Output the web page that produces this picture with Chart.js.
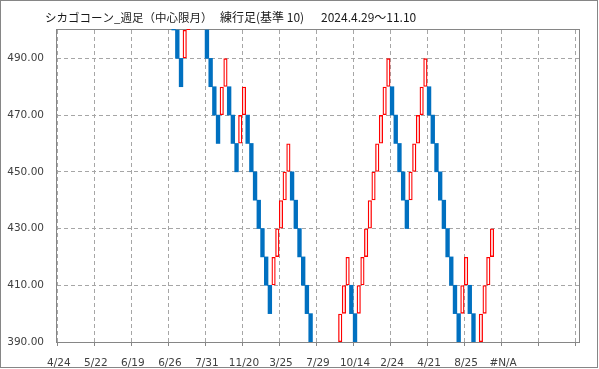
<!DOCTYPE html>
<html>
<head>
<meta charset="utf-8">
<script src="https://cdn.jsdelivr.net/npm/chart.js@4.4.1/dist/chart.umd.min.js"></script>
<style>
    html, body { margin: 0; padding: 0; background: #fff; }
    #wrap { width: 599px; height: 369px; }
</style>
</head>
<body>
<div id="wrap"><canvas id="myChart" width="599" height="369"></canvas></div>
<script>
// 練行足 (基準 10) : one brick per category
const brickSize = 10;
const categoryCount = 141;
const firstBrick = 31; // categories before this are above 500 (off the chart)

// bottom of each brick from category 31 on, null = off the chart
const brickLow = [
    500, 490, 480, 490, 500, null, null, null, null, 490,
    480, 470, 460, 470, 480, 470, 460, 450, 460, 470,
    460, 450, 440, 430, 420, 410, 400, 410, 420, 430,
    440, 450, 440, 430, 420, 410, 400, 390, null, null,
    null, null, null, null, null, 390, 400, 410, 400, 390,
    400, 410, 420, 430, 440, 450, 460, 470, 480, 470,
    460, 450, 440, 430, 440, 450, 460, 470, 480, 470,
    460, 450, 440, 430, 420, 410, 400, 390, 400, 410,
    400, 390, null, 390, 400, 410, 420
];
// U = up brick (red outline), D = down brick (blue), - = none
const brickDir = (
    'DDDUU----D' +
    'DDDUUDDDUU' +
    'DDDDDDDUUU' +
    'UUDDDDDD--' +
    '-----UUUDD' +
    'UUUUUUUUUD' +
    'DDDDUUUUUD' +
    'DDDDDDDDUU' +
    'DD-UUUU'
).split('');

const tickLabels = ['4/24', '5/22', '6/19', '6/26', '7/31', '11/20', '3/25',
    '7/29', '10/14', '2/24', '4/21', '8/25', '#N/A'];
const yTicks = [390, 410, 430, 450, 470, 490];

const labels = [];
for (let i = 0; i < categoryCount; i++) {
    labels.push(i % 10 === 0 && tickLabels[i / 10] ? tickLabels[i / 10] : '');
}

function bricks(dir) {
    return labels.map((_, i) => {
        const j = i - firstBrick;
        if (j < 0 || brickLow[j] == null || brickDir[j] !== dir) return null;
        return [brickLow[j], brickLow[j] + brickSize];
    });
}

const gridColor = '#a6a6a6';
const axisColor = '#868686';
const tickFont = { family: 'DejaVu Sans', size: 10.5 };
const clearColor = 'rgba(0,0,0,0)';

const framePlugin = {
    id: 'frame',
    beforeDatasetsDraw(chart) {
        const { ctx, chartArea: a } = chart;
        ctx.save();
        ctx.strokeStyle = axisColor;
        ctx.lineWidth = 1;
        ctx.strokeRect(a.left - 0.5, a.top - 0.5, a.right - a.left + 1, a.bottom - a.top + 1);
        ctx.restore();
    },
    afterDraw(chart) {
        const ctx = chart.ctx;
        ctx.save();
        ctx.strokeStyle = axisColor;
        ctx.lineWidth = 1;
        ctx.strokeRect(0.5, 0.5, 597, 367);
        // title
        ctx.fillStyle = '#1a1a1a';
        ctx.textBaseline = 'middle';
        ctx.font = '11.5px "Noto Sans CJK JP"';
        ctx.fillText('シカゴコーン_週足（中心限月）', 45, 17.5);
        ctx.font = '12px "Noto Sans CJK JP"';
        ctx.fillText('練行足(基準 10)', 220, 17.5);
        ctx.fillText('2024.4.29～11.10', 321, 17.5);
        ctx.restore();
    }
};

const ctx = document.getElementById('myChart');

new Chart(ctx, {
    type: 'bar',
    data: {
        labels: labels,
        datasets: [{
            label: 'down',
            data: bricks('D'),
            backgroundColor: '#0070c0',
            borderWidth: 0,
            grouped: false,
            barPercentage: 1,
            categoryPercentage: 1,
            clip: { left: 0, top: 1, right: 0, bottom: 0 }
        }, {
            label: 'up',
            data: bricks('U'),
            backgroundColor: clearColor,
            borderColor: '#ff0000',
            borderWidth: 1.3,
            borderSkipped: false,
            grouped: false,
            barPercentage: 1.12,
            categoryPercentage: 1,
            clip: { left: 0, top: 1, right: 0, bottom: 0 }
        }]
    },
    options: {
        responsive: false,
        devicePixelRatio: 1,
        animation: false,
        layout: { padding: { left: 0, top: 30, right: 20, bottom: 0 } },
        plugins: {
            legend: { display: false },
            tooltip: { enabled: false },
            title: { display: false }
        },
        scales: {
            x: {
                type: 'category',
                offset: true,
                afterFit: s => { s.height = 27; },
                grid: {
                    offset: true,
                    color: c => (c.index % 10 === 0 ? gridColor : clearColor),
                    tickColor: c => (c.index % 10 === 0 ? axisColor : clearColor),
                    tickLength: 4
                },
                border: { display: false, dash: [4, 3] },
                ticks: {
                    autoSkip: false,
                    maxRotation: 0,
                    minRotation: 0,
                    padding: 11,
                    color: '#404040',
                    font: tickFont
                }
            },
            y: {
                type: 'linear',
                min: 390,
                max: 500,
                afterFit: s => { s.width = 57; },
                afterBuildTicks: s => { s.ticks = yTicks.map(v => ({ value: v })); },
                grid: { color: gridColor, drawTicks: false },
                border: { display: false, dash: [4, 3] },
                ticks: {
                    padding: 13,
                    color: '#404040',
                    font: tickFont,
                    callback: v => Number(v).toFixed(2)
                }
            }
        }
    },
    plugins: [framePlugin]
});
</script>
</body>
</html>
